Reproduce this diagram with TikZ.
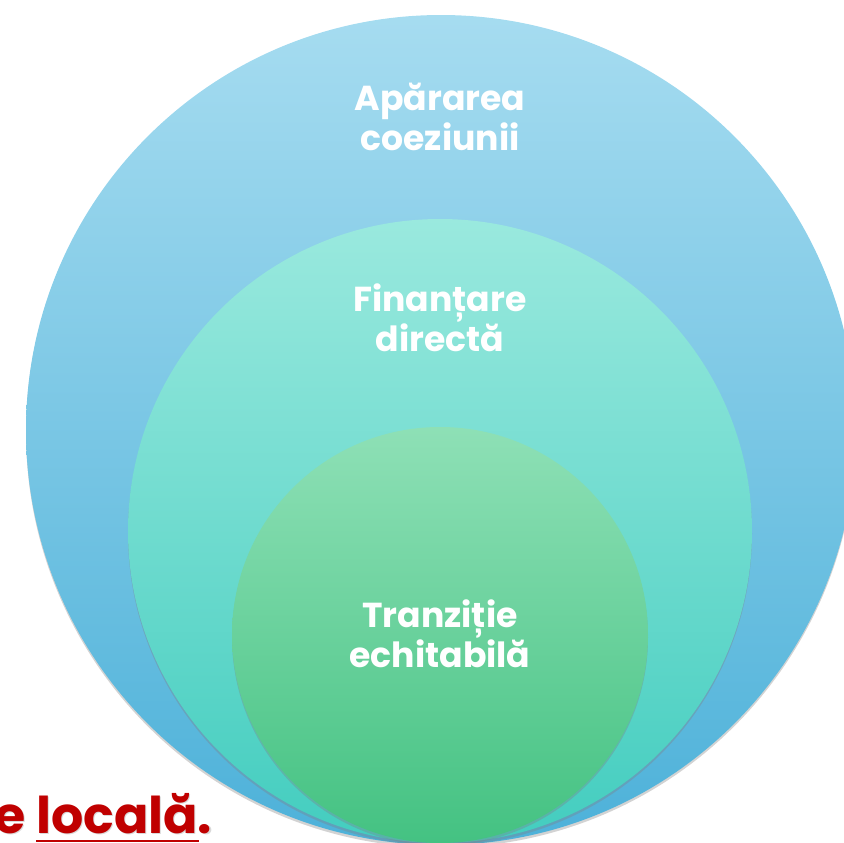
\documentclass[tikz,border=0pt]{standalone}
\usepackage{fontspec}
\setmainfont{Poppins}
\usepackage{tikz}
\usetikzlibrary{shadows}

\definecolor{outertop}{HTML}{A6DCF0}
\definecolor{outerbot}{HTML}{4DB1D9}
\definecolor{midtop}{HTML}{9AE9DE}
\definecolor{midbot}{HTML}{43CDBF}
\definecolor{innertop}{HTML}{8EE0B6}
\definecolor{innerbot}{HTML}{44C282}
\definecolor{darkred}{HTML}{C00000}

\tikzset{
  ring/.style={drop shadow={opacity=0.35,shadow xshift=0pt,shadow yshift=-2pt}},
  label/.style={text=white,font=\bfseries\fontsize{26}{30}\selectfont,align=center},
  redtext/.style={anchor=base west,inner sep=0pt,font=\bfseries\fontsize{38}{44}\selectfont}
}

\begin{document}
\begin{tikzpicture}[x=0.75pt,y=-0.75pt]
        \useasboundingbox (0,0) rectangle (844,843);
        % nested circles, touching at the bottom
        \shade[ring,top color=outertop,bottom color=outerbot] (441,430) circle (415);
        \shade[ring,top color=midtop,bottom color=midbot] (440,531) circle (312);
        \shade[ring,top color=innertop,bottom color=innerbot] (440,635) circle (208);
        \node[label] (aparare) at (440,117) {Apărarea\\coeziunii};
        \node[label] (finantare) at (440,318) {Finanțare\\directă};
        \node[label] (tranzitie) at (440,634) {Tranziție\\echitabilă};
        % red text with a soft shadow
        \node[redtext,text=black,opacity=0.15] (localshadow) at (-4.5,834.5) {e locală.};
        \node[redtext,text=darkred] (local) at (-6,833) {e locală.};
        \draw[darkred,line width=1.2pt] (36,841) -- (199,841);
\end{tikzpicture}
\end{document}
